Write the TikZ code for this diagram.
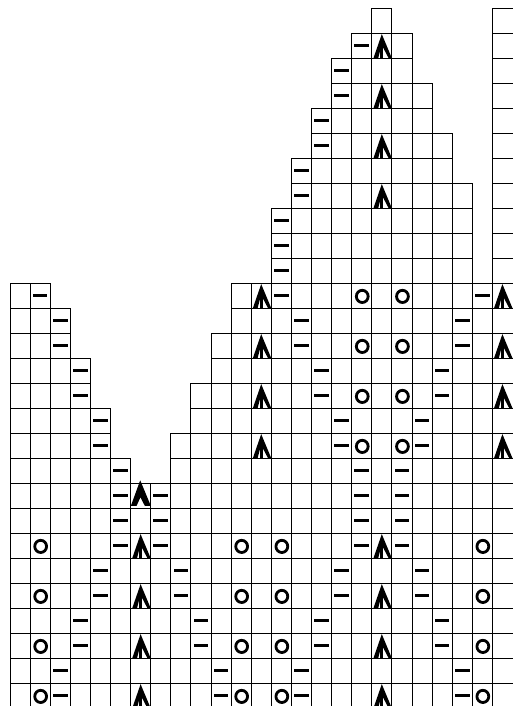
\documentclass[tikz,border=0pt]{standalone}
\newcommand\kdash[2]{\fill ({20.05+20.1*#1-7.3},{20.8+25*#2-1.5}) rectangle ++(14.6,3);}
\newcommand\kyo[2]{\draw[line width=2.8pt] ({20.05+20.1*#1+0.5},{20.8+25*#2+0.6}) ellipse[x radius=5.9pt,y radius=6.1pt];}
\newcommand\karrow[2]{\begin{scope}[shift={({10+20.1*#1},{8.3+25*#2})}]
  \fill (10,0.8) -- (1.6,25) -- (6.4,25) -- (9.8,11.5) -- (16.9,25) -- (20.1,25) -- cycle;
  \fill (8.4,8.5) rectangle (11.3,25);
\end{scope}}
\newcommand\kchev[2]{\begin{scope}[shift={({10+20.1*#1},{8.3+25*#2})}]
  \fill (9.6,-3) -- (0.3,22.5) -- (6,22.5) -- (9.8,14) -- (14.2,22.5) -- (20.2,22.5) -- cycle;
\end{scope}}
\begin{document}
\begin{tikzpicture}[x=1pt,y=-1pt,gridline/.style={line width=0.9pt,draw=black}]
\useasboundingbox (0,0) rectangle (512,706);
\fill[white] (0,0) rectangle (512,706);
\foreach \c/\t in {0/11,1/11,2/12,3/14,4/16,5/18,6/19,7/19,8/17,9/15,10/13,11/11,12/11,13/8,14/6,15/4,16/2,17/1,18/0,19/1,20/3,21/5,22/7,23/11}{
  \foreach \r in {\t,...,27}{
    \draw[gridline] ({10+20.1*\c},{8.3+25*\r}) rectangle ++(20.1,25);
  }
}
\foreach \r in {0,...,27}{
  \draw[gridline] ({10+20.1*24},{8.3+25*\r}) rectangle ++(22,25);
}
\foreach \c/\r in {1/11,2/12,2/13,3/14,3/15,4/16,4/17,5/18,5/19,5/20,5/21,4/22,4/23,3/24,3/25,2/26,2/27,
  7/19,7/20,7/21,8/22,8/23,9/24,9/25,10/26,10/27,
  17/1,16/2,16/3,15/4,15/5,14/6,14/7,13/8,13/9,13/10,13/11,14/12,14/13,15/14,15/15,16/16,16/17,17/18,17/19,17/20,17/21,16/22,16/23,15/24,15/25,14/26,14/27,
  23/11,22/12,22/13,21/14,21/15,20/16,20/17,19/18,19/19,19/20,19/21,20/22,20/23,21/24,21/25,22/26,22/27}{
  \kdash{\c}{\r}
}
\foreach \c/\r in {1/21,1/23,1/25,1/27,11/21,11/23,11/25,11/27,13/21,13/23,13/25,13/27,17/11,17/13,17/15,17/17,19/11,19/13,19/15,19/17,23/21,23/23,23/25,23/27}{
  \kyo{\c}{\r}
}
\foreach \c/\r in {6/21,6/23,6/25,6/27,12/11,12/13,12/15,12/17,18/1,18/3,18/5,18/7,18/21,18/23,18/25,18/27,24/11,24/13,24/15,24/17}{
  \karrow{\c}{\r}
}
\kchev{6}{19}
\end{tikzpicture}
\end{document}
